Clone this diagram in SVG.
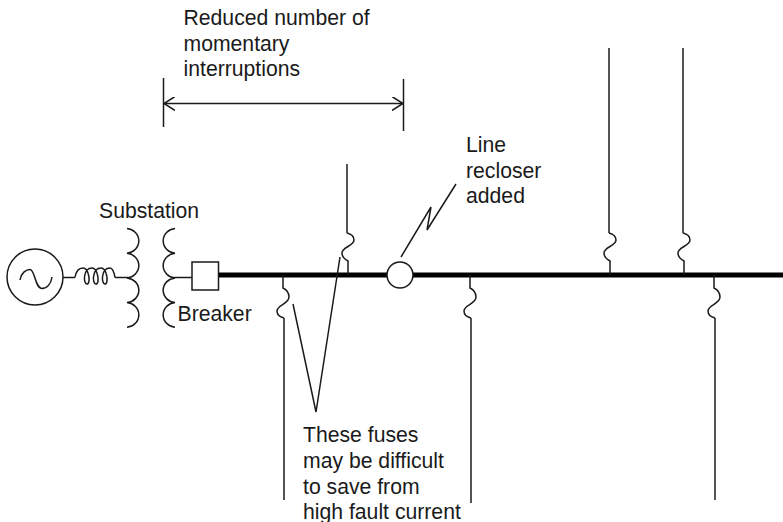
<svg xmlns="http://www.w3.org/2000/svg" width="783" height="522" viewBox="0 0 783 522">
<style>
.l{fill:none;stroke:#1a1a1a;stroke-width:1.5}
.t{font-family:"Liberation Sans",Arial,sans-serif;font-size:21.2px;fill:#1a1a1a}
</style>
<defs>
<path id="fuse" d="M0 0V13C4 15 6 18 6 22C6 29 -6 30 -6 36C-6 40 -3 42 1 43"/>
<path id="fuse-up" d="M0 0V-14C-4 -16 -6 -19 -6 -22C-6 -28 6 -29 6 -35C6 -39 3 -41 -1 -42"/>
<marker id="ah" viewBox="0 0 12 14" refX="11" refY="7" markerWidth="12" markerHeight="14" markerUnits="userSpaceOnUse" orient="auto-start-reverse"><path d="M0 0L11 7L0 14" fill="none" stroke="#1a1a1a" stroke-width="1.5"/></marker>
</defs>
<g id="connectors">
<path d="M219 275H783" fill="none" stroke="#000" stroke-width="5"/>
<path class="l" d="M63 277.500H75"/>
<path class="l" d="M115 277.500H128"/>
<path class="l" d="M174 277.500H192"/>
<path class="l" d="M163.500 78V127"/>
<path class="l" d="M403.500 79V131"/>
<path class="l" d="M164 103.500H403" marker-start="url(#ah)" marker-end="url(#ah)"/>
<path class="l" d="M401 257L431 207L427 230L456 184"/>
<path class="l" d="M293 304L316 412L340 257"/>
</g>
<g id="generator"><circle class="l" cx="35" cy="277" r="28"/><path class="l" d="M20 280C21 273 26 269.500 30 269.500C35 269.500 35 288.500 42 288.500C47 288.500 51 284 52 277"/></g>
<g id="series-coil"><path class="l" d="M75 277.500C76 271 79 268 83 268C89 268 91 284 87 284C83 284 83 268 92 268C98 268 100 284 96 284C92 284 92 268 101 268C107 268 109 284 105 284C101 284 101 268 110 268C113 268 114 272 115 277.500"/></g>
<g id="substation">
<path class="l" d="M127 228.500A13 12.400 0 0 1 127 253.200A13 12.400 0 0 1 127 277.900A13 12.400 0 0 1 127 302.600A13 12.400 0 0 1 127 327.300"/>
<path class="l" d="M175 228.500A13 12.400 0 0 0 175 253.200A13 12.400 0 0 0 175 277.900A13 12.400 0 0 0 175 302.600A13 12.400 0 0 0 175 327.300"/>
<text class="t" x="99" y="218">Substation</text>
</g>
<g id="breaker"><rect x="192" y="262" width="26.500" height="28" fill="#fff" stroke="#1a1a1a" stroke-width="1.500"/><text class="t" x="177.500" y="321">Breaker</text></g>
<g id="recloser"><circle cx="400" cy="275" r="13" fill="#fff" stroke="#1a1a1a" stroke-width="1.500"/><text class="t"><tspan x="466" y="152">Line</tspan><tspan x="466" y="177.500">recloser</tspan><tspan x="466" y="203">added</tspan></text></g>
<g id="fuse-a"><use href="#fuse" class="l" transform="translate(283,275)"/><path class="l" d="M284 318V500"/></g>
<g id="fuse-b"><use href="#fuse-up" class="l" transform="translate(348,275)"/><path class="l" d="M347 233V164"/></g>
<g id="fuse-c"><use href="#fuse" class="l" transform="translate(470,275)"/><path class="l" d="M471 318V503"/></g>
<g id="fuse-d"><use href="#fuse-up" class="l" transform="translate(610,275)"/><path class="l" d="M609 233V48"/></g>
<g id="fuse-e"><use href="#fuse-up" class="l" transform="translate(684,275)"/><path class="l" d="M683 233V48"/></g>
<g id="fuse-f"><use href="#fuse" class="l" transform="translate(714,275)"/><path class="l" d="M715 318V500"/></g>
<g id="labels">
<text class="t"><tspan x="183.500" y="25">Reduced number of</tspan><tspan x="183.500" y="51">momentary</tspan><tspan x="183.500" y="76">interruptions</tspan></text>
<text class="t"><tspan x="303" y="442">These fuses</tspan><tspan x="303" y="468">may be difficult</tspan><tspan x="303" y="493.500">to save from</tspan><tspan x="303" y="519">high fault current</tspan></text>
</g>
</svg>
